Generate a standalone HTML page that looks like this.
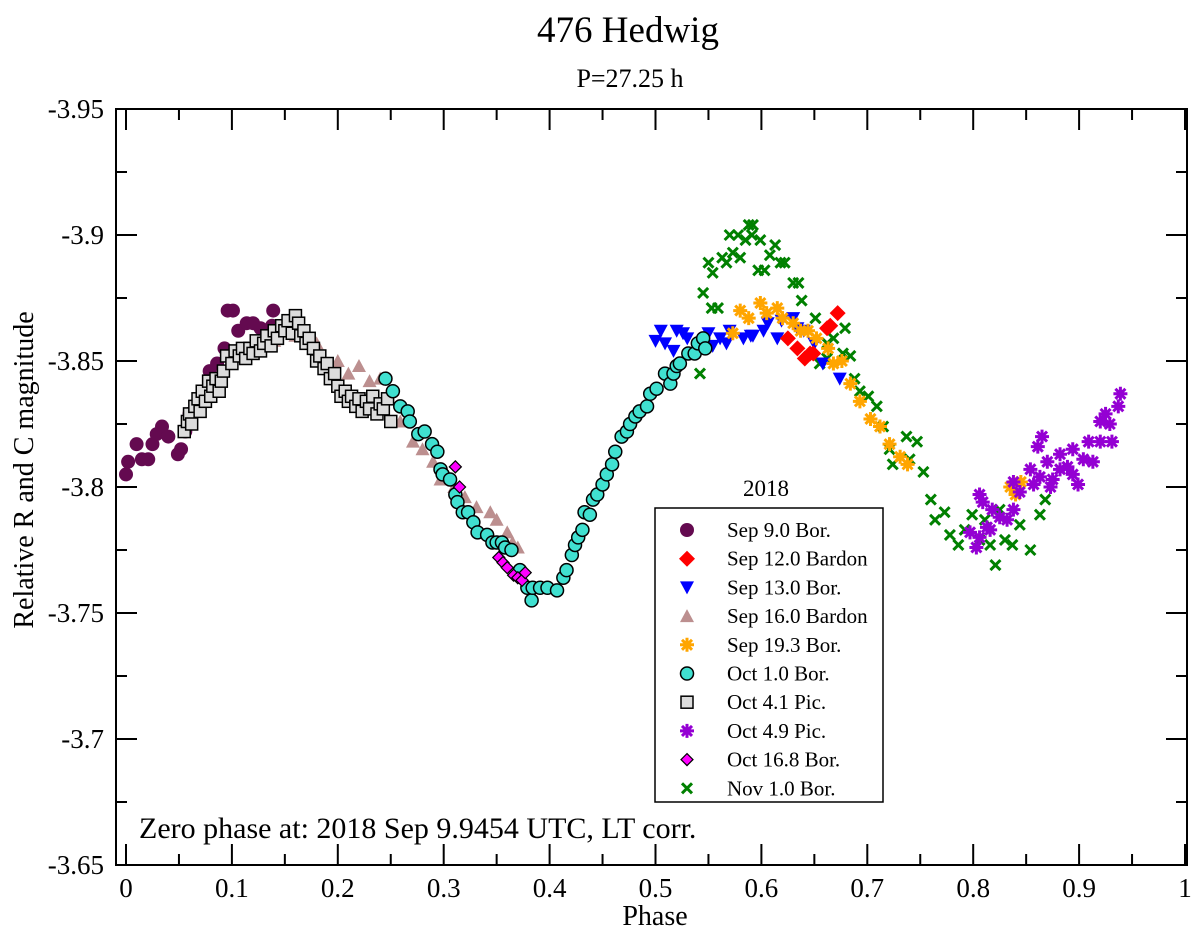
<!DOCTYPE html>
<html><head><meta charset="utf-8"><style>
html,body{margin:0;padding:0;background:#fff;}
svg{display:block;font-family:"Liberation Serif",serif;}
</style></head><body>
<svg id="chart" width="1200" height="934" viewBox="0 0 1200 934" xmlns="http://www.w3.org/2000/svg">
<text x="628" y="42" font-size="37" text-anchor="middle">476 Hedwig</text>
<text x="630" y="87" font-size="26" text-anchor="middle">P=27.25 h</text>
<text transform="translate(33,470) rotate(-90)" font-size="28" text-anchor="middle">Relative R and C magnitude</text>
<text x="655" y="925" font-size="28" text-anchor="middle">Phase</text>
<g id="plot"></g>
<text x="139" y="838" font-size="30">Zero phase at: 2018 Sep 9.9454 UTC, LT corr.</text>
</svg>
<script>
const xTicks=[0,0.1,0.2,0.3,0.4,0.5,0.6,0.7,0.8,0.9,1];
const xTickLabels=["0","0.1","0.2","0.3","0.4","0.5","0.6","0.7","0.8","0.9","1"];
const yTicks=[-3.95,-3.9,-3.85,-3.8,-3.75,-3.7,-3.65];
const yTickLabels=["-3.95","-3.9","-3.85","-3.8","-3.75","-3.7","-3.65"];
const seriesNames=["Sep 9.0 Bor.","Sep 12.0 Bardon","Sep 13.0 Bor.","Sep 16.0 Bardon","Sep 19.3 Bor.","Oct 1.0 Bor.","Oct 4.1 Pic.","Oct 4.9 Pic.","Oct 16.8 Bor.","Nov 1.0 Bor."];
const sep9=[[0,-3.805],[0.002,-3.81],[0.01,-3.817],[0.015,-3.811],[0.021,-3.811],[0.025,-3.817],[0.029,-3.821],[0.034,-3.824],[0.04,-3.82],[0.049,-3.813],[0.052,-3.815],[0.056,-3.822],[0.06,-3.829],[0.079,-3.846],[0.086,-3.849],[0.093,-3.855],[0.096,-3.87],[0.101,-3.87],[0.106,-3.862],[0.114,-3.865],[0.12,-3.865],[0.127,-3.863],[0.139,-3.87],[0.138,-3.864]];
const sep12=[[0.625,-3.859],[0.634,-3.855],[0.641,-3.851],[0.646,-3.853],[0.649,-3.853],[0.662,-3.863],[0.665,-3.864],[0.672,-3.869]];
const sep13=[[0.5,-3.858],[0.505,-3.862],[0.509,-3.857],[0.517,-3.854],[0.52,-3.862],[0.526,-3.861],[0.53,-3.859],[0.55,-3.861],[0.554,-3.856],[0.561,-3.859],[0.567,-3.857],[0.57,-3.862],[0.583,-3.859],[0.59,-3.86],[0.592,-3.86],[0.602,-3.862],[0.606,-3.865],[0.615,-3.859],[0.619,-3.866],[0.63,-3.867],[0.634,-3.863],[0.64,-3.862],[0.65,-3.857],[0.658,-3.849],[0.674,-3.843]];
const sep16=[[0.12,-3.855],[0.14,-3.858],[0.16,-3.86],[0.18,-3.857],[0.2,-3.85],[0.21,-3.845],[0.22,-3.848],[0.23,-3.842],[0.24,-3.843],[0.25,-3.838],[0.259,-3.826],[0.271,-3.818],[0.28,-3.815],[0.29,-3.81],[0.297,-3.803],[0.31,-3.8],[0.32,-3.796],[0.331,-3.792],[0.344,-3.79],[0.35,-3.787],[0.36,-3.782],[0.365,-3.778],[0.37,-3.776]];
const sep19=[[0.573,-3.861],[0.58,-3.87],[0.588,-3.867],[0.599,-3.873],[0.605,-3.869],[0.615,-3.871],[0.62,-3.867],[0.63,-3.865],[0.637,-3.862],[0.644,-3.862],[0.652,-3.859],[0.663,-3.855],[0.668,-3.849],[0.676,-3.85],[0.684,-3.841],[0.693,-3.834],[0.703,-3.827],[0.712,-3.824],[0.721,-3.817],[0.731,-3.812],[0.738,-3.809],[0.835,-3.8],[0.84,-3.797],[0.845,-3.802]];
const oct1=[[0.245,-3.843],[0.252,-3.838],[0.259,-3.832],[0.266,-3.83],[0.268,-3.826],[0.276,-3.821],[0.282,-3.822],[0.289,-3.817],[0.294,-3.814],[0.297,-3.807],[0.299,-3.805],[0.306,-3.803],[0.311,-3.797],[0.313,-3.794],[0.318,-3.79],[0.323,-3.79],[0.328,-3.786],[0.332,-3.782],[0.341,-3.781],[0.346,-3.778],[0.35,-3.778],[0.355,-3.778],[0.358,-3.776],[0.364,-3.775],[0.372,-3.767],[0.379,-3.76],[0.383,-3.755],[0.384,-3.76],[0.391,-3.76],[0.398,-3.76],[0.407,-3.759],[0.413,-3.764],[0.416,-3.767],[0.421,-3.773],[0.424,-3.777],[0.427,-3.78],[0.431,-3.783],[0.433,-3.79],[0.438,-3.789],[0.441,-3.795],[0.445,-3.797],[0.45,-3.801],[0.454,-3.805],[0.459,-3.809],[0.462,-3.814],[0.468,-3.82],[0.473,-3.822],[0.476,-3.825],[0.481,-3.828],[0.485,-3.83],[0.492,-3.832],[0.495,-3.837],[0.501,-3.839],[0.509,-3.845],[0.514,-3.841],[0.517,-3.845],[0.52,-3.848],[0.523,-3.849],[0.531,-3.853],[0.537,-3.853],[0.54,-3.857],[0.545,-3.859],[0.547,-3.855]];
const oct41=[[0.055,-3.822],[0.058,-3.826],[0.06,-3.829],[0.062,-3.825],[0.065,-3.832],[0.068,-3.835],[0.07,-3.83],[0.072,-3.838],[0.075,-3.834],[0.078,-3.842],[0.08,-3.836],[0.082,-3.84],[0.085,-3.843],[0.088,-3.838],[0.09,-3.842],[0.092,-3.846],[0.095,-3.852],[0.1,-3.849],[0.103,-3.854],[0.107,-3.852],[0.11,-3.855],[0.113,-3.851],[0.117,-3.855],[0.12,-3.853],[0.123,-3.858],[0.127,-3.854],[0.13,-3.857],[0.133,-3.86],[0.137,-3.856],[0.14,-3.862],[0.143,-3.859],[0.147,-3.864],[0.15,-3.862],[0.153,-3.866],[0.157,-3.861],[0.16,-3.868],[0.163,-3.865],[0.165,-3.86],[0.168,-3.862],[0.17,-3.857],[0.173,-3.859],[0.177,-3.855],[0.18,-3.85],[0.183,-3.852],[0.187,-3.847],[0.19,-3.849],[0.193,-3.843],[0.197,-3.845],[0.2,-3.84],[0.203,-3.836],[0.207,-3.838],[0.21,-3.834],[0.213,-3.836],[0.217,-3.832],[0.22,-3.835],[0.223,-3.83],[0.227,-3.834],[0.23,-3.831],[0.233,-3.836],[0.237,-3.829],[0.24,-3.833],[0.243,-3.831],[0.247,-3.835],[0.25,-3.826]];
const oct49=[[0.806,-3.797],[0.809,-3.794],[0.818,-3.791],[0.797,-3.782],[0.803,-3.776],[0.813,-3.784],[0.825,-3.788],[0.832,-3.787],[0.838,-3.791],[0.838,-3.802],[0.844,-3.798],[0.854,-3.807],[0.857,-3.801],[0.863,-3.804],[0.87,-3.81],[0.875,-3.803],[0.882,-3.813],[0.889,-3.808],[0.894,-3.805],[0.899,-3.801],[0.894,-3.815],[0.904,-3.811],[0.909,-3.818],[0.913,-3.81],[0.92,-3.818],[0.92,-3.826],[0.925,-3.829],[0.929,-3.825],[0.931,-3.818],[0.937,-3.832],[0.939,-3.837],[0.865,-3.82],[0.861,-3.816],[0.816,-3.783],[0.806,-3.78],[0.873,-3.8],[0.882,-3.807]];
const oct168=[[0.311,-3.808],[0.315,-3.8],[0.352,-3.772],[0.356,-3.77],[0.36,-3.768],[0.366,-3.765],[0.37,-3.764],[0.374,-3.763],[0.377,-3.766]];
const nov1=[[0.545,-3.877],[0.542,-3.845],[0.55,-3.889],[0.554,-3.885],[0.553,-3.871],[0.559,-3.871],[0.563,-3.891],[0.567,-3.889],[0.57,-3.9],[0.573,-3.893],[0.578,-3.9],[0.58,-3.891],[0.585,-3.898],[0.588,-3.904],[0.592,-3.904],[0.591,-3.9],[0.599,-3.898],[0.597,-3.886],[0.603,-3.886],[0.608,-3.892],[0.613,-3.896],[0.618,-3.889],[0.622,-3.889],[0.63,-3.881],[0.635,-3.881],[0.638,-3.874],[0.651,-3.867],[0.662,-3.857],[0.668,-3.859],[0.679,-3.863],[0.677,-3.853],[0.684,-3.852],[0.655,-3.849],[0.662,-3.851],[0.688,-3.843],[0.693,-3.838],[0.701,-3.836],[0.709,-3.832],[0.715,-3.824],[0.721,-3.815],[0.737,-3.82],[0.747,-3.818],[0.724,-3.809],[0.74,-3.811],[0.753,-3.806],[0.76,-3.795],[0.764,-3.787],[0.778,-3.781],[0.786,-3.777],[0.792,-3.783],[0.799,-3.789],[0.806,-3.779],[0.816,-3.777],[0.821,-3.769],[0.83,-3.779],[0.837,-3.777],[0.844,-3.785],[0.854,-3.775],[0.863,-3.789],[0.825,-3.791],[0.811,-3.787],[0.773,-3.79],[0.868,-3.795]];

const NS="http://www.w3.org/2000/svg";
const L=116,R=1187,T=109,B=865;
const xs=v=>126+v*1059;
const ys=v=>T+(v-(-3.95))/0.3*(B-T);
const plot=document.getElementById('plot');
function el(tag,attrs,parent){const e=document.createElementNS(NS,tag);for(const k in attrs)e.setAttribute(k,attrs[k]);(parent||plot).appendChild(e);return e;}

const frame=el('rect',{x:L,y:T,width:R-L,height:B-T,fill:'none',stroke:'#000','stroke-width':2});



xTicks.forEach((t,i)=>{
  const x=xs(t);
  const tk=el('path',{d:`M${x},${B}v-21M${x},${T}v21`,stroke:'#000','stroke-width':2});
  
  
  if(i<xTicks.length-1){const m=xs(t+0.05);const mt=el('path',{d:`M${m},${B}v-11M${m},${T}v11`,stroke:'#000','stroke-width':2});
    
    }
  const lb=el('text',{x:x,y:B+32,'font-size':27,'text-anchor':'middle'});lb.textContent=xTickLabels[i];
  
  
});
yTicks.forEach((t,i)=>{
  const y=ys(t);
  const tk=el('path',{d:`M${L},${y}h21M${R},${y}h-21`,stroke:'#000','stroke-width':2});
  
  
  if(i<yTicks.length-1){const m=ys(t+0.025);const mt=el('path',{d:`M${L},${m}h11M${R},${m}h-11`,stroke:'#000','stroke-width':2});
    
    }
  const lb=el('text',{x:L-12,y:y+9,'font-size':27,'text-anchor':'end'});lb.textContent=yTickLabels[i];
  
  
});

function marker(type,x,y,g){
  let e;
  if(type==='circle')e=el('circle',{cx:x,cy:y,r:7,fill:'#640a50'},g);
  else if(type==='diamond')e=el('path',{d:`M${x},${y-8}L${x+8},${y}L${x},${y+8}L${x-8},${y}Z`,fill:'#ff0000'},g);
  else if(type==='tdown')e=el('path',{d:`M${x-7},${y-6}L${x+7},${y-6}L${x},${y+7}Z`,fill:'#0000ff'},g);
  else if(type==='tup')e=el('path',{d:`M${x-7},${y+6}L${x+7},${y+6}L${x},${y-7}Z`,fill:'#bc8f8f'},g);
  else if(type==='astO'||type==='astP'){const c=type==='astO'?'#ffa500':'#9400d3';
    e=el('path',{d:`M${x-7},${y}h14M${x},${y-7}v14M${x-5},${y-5}l10,10M${x+5},${y-5}l-10,10`,stroke:c,'stroke-width':3},g);}
  else if(type==='tcircle')e=el('circle',{cx:x,cy:y,r:6.5,fill:'#40e0d0',stroke:'#000','stroke-width':1.5},g);
  else if(type==='square')e=el('rect',{x:x-6,y:y-6,width:12,height:12,fill:'#dcdcdc',stroke:'#000','stroke-width':1.5},g);
  else if(type==='mdiamond')e=el('path',{d:`M${x},${y-6}L${x+6},${y}L${x},${y+6}L${x-6},${y}Z`,fill:'#ff00ff',stroke:'#000','stroke-width':1.2},g);
  else if(type==='cross')e=el('path',{d:`M${x-5},${y-5}l10,10M${x+5},${y-5}l-10,10`,stroke:'#008000','stroke-width':3},g);
  return e;
}
const seriesDefs=[[sep16,'tup','sep16-points'],[sep9,'circle','sep9-points'],[oct41,'square','oct41-points'],[nov1,'cross','nov1-points'],[sep13,'tdown','sep13-points'],[sep12,'diamond','sep12-points'],[sep19,'astO','sep19-points'],[oct1,'tcircle','oct1-points'],[oct49,'astP','oct49-points'],[oct168,'mdiamond','oct168-points']];
seriesDefs.forEach(([data,type,name])=>{
  const g=el('g',{});
  
  
  data.forEach(p=>{const m=marker(type,xs(p[0]),ys(p[1]),g);
    
    });
});

const lt=el('text',{x:766,y:496,'font-size':23,'text-anchor':'middle'});lt.textContent='2018';


const lg=el('g',{});


el('rect',{x:655,y:508,width:228,height:294,fill:'#fff',stroke:'#000','stroke-width':1.5},lg);
const legendTypes=['circle','diamond','tdown','tup','astO','tcircle','square','astP','mdiamond','cross'];
seriesNames.forEach((n,i)=>{
  const y=530+i*28.7;
  const e=el('g',{},lg);
  
  
  marker(legendTypes[i],687,y,e);
  const t=el('text',{x:727,y:y+7,'font-size':21},e);t.textContent=n;
});
</script>
</body></html>
